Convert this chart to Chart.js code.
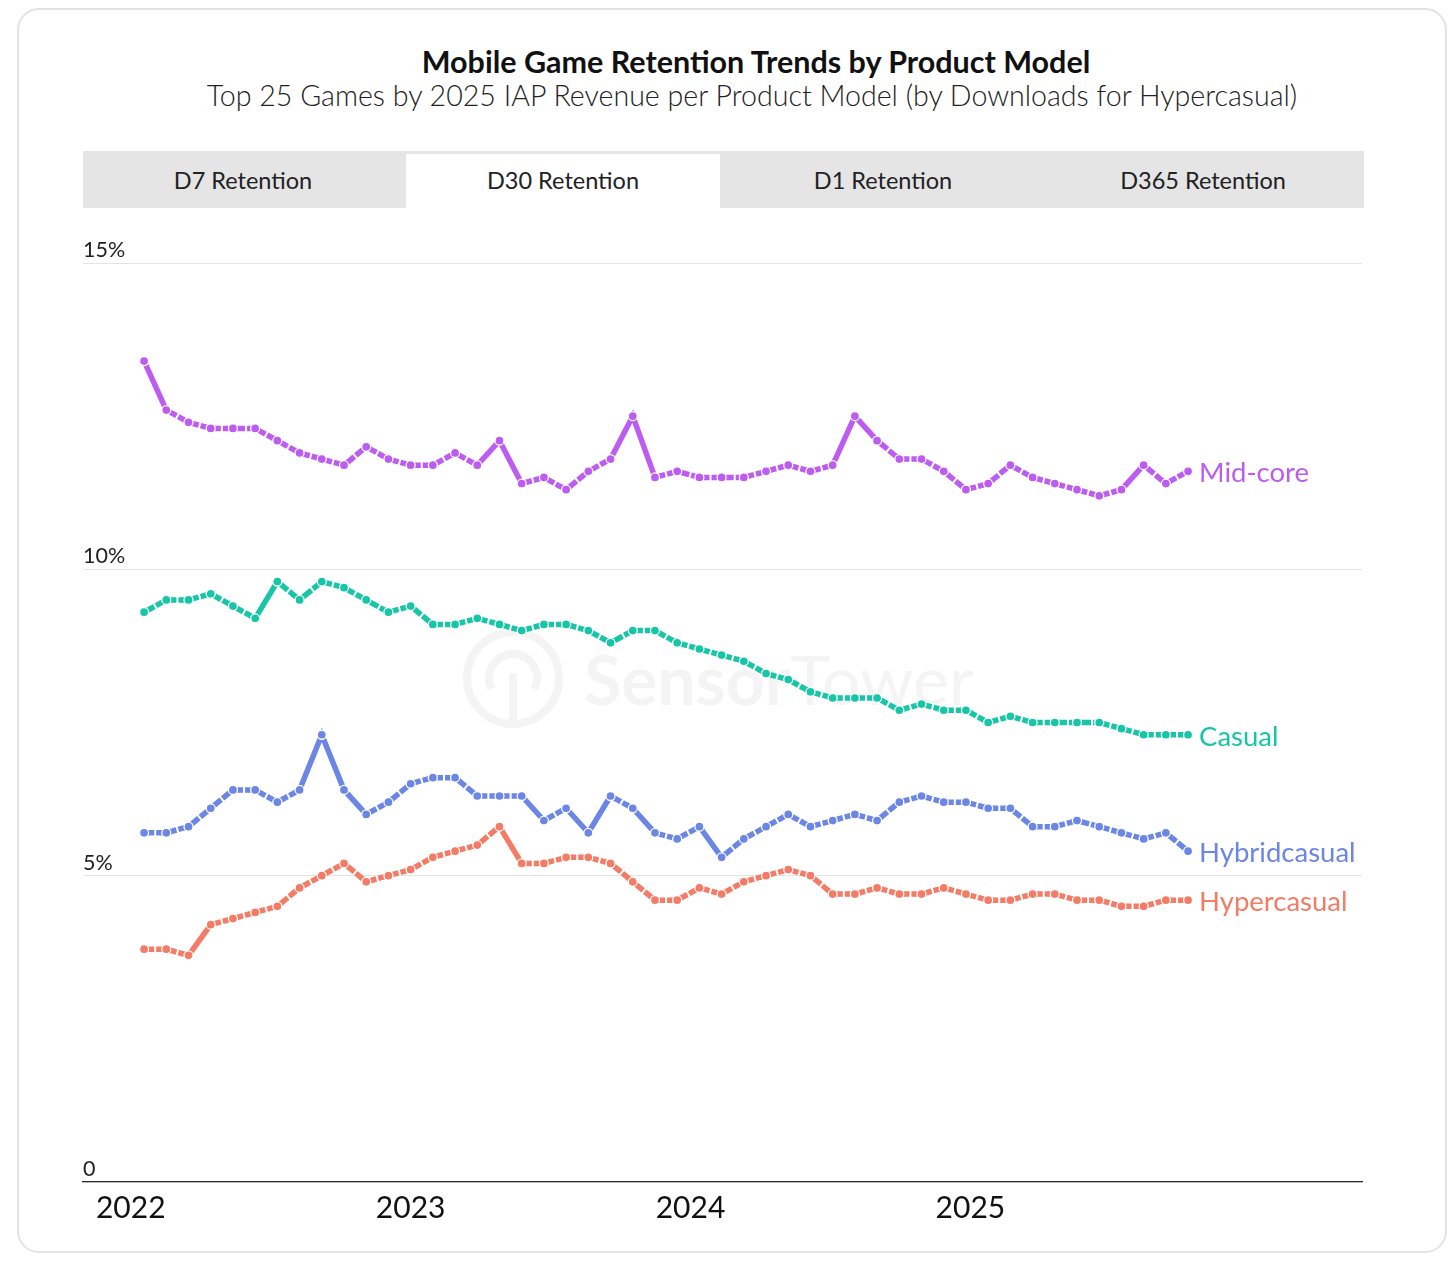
<!DOCTYPE html>
<html>
<head>
<meta charset="utf-8">
<script src="https://cdn.jsdelivr.net/npm/chart.js@4/dist/chart.umd.min.js"></script>
<style>
  body { margin: 0; width: 1456px; height: 1270px; background: #fff; font-family: Lato, "Noto Sans", sans-serif; position: relative; overflow: hidden; }
  .card { position: absolute; left: 17px; top: 8px; width: 1430px; height: 1245px; box-sizing: border-box; border: 2px solid #e3e3e3; border-radius: 22px; }
  .title { position: absolute; left: 28px; width: 1456px; top: 43px; line-height: 36px; text-align: center; font-size: 30.5px; font-weight: 700; color: #111; }
  .subtitle { position: absolute; left: 24px; width: 1456px; top: 77px; line-height: 36px; text-align: center; font-size: 28.6px; font-weight: 300; color: #222; }
  .tabs { position: absolute; left: 83px; top: 151px; width: 1281px; height: 57px; background: #e5e5e5; }
  .tab { position: absolute; top: 0; width: 320px; height: 57px; line-height: 58px; text-align: center; font-size: 23.5px; color: #222; }
  .tab.active { background: #fff; top: 3px; height: 54px; line-height: 52px; }
  #wrap { position: absolute; left: 0; top: 215px; width: 1456px; height: 1030px; }
</style>
</head>
<body>
<div class="card"></div>
<div class="title">Mobile Game Retention Trends by Product Model</div>
<div class="subtitle">Top 25 Games by 2025 IAP Revenue per Product Model (by Downloads for Hypercasual)</div>
<div class="tabs">
  <div class="tab" style="left:0">D7 Retention</div>
  <div class="tab active" style="left:323px;width:314px">D30 Retention</div>
  <div class="tab" style="left:640px">D1 Retention</div>
  <div class="tab" style="left:960px">D365 Retention</div>
</div>
<div id="wrap"><canvas id="id-canvas"></canvas></div>
<script>
// periods 0..47 (x axis), year labels sit at these period positions
var periods = [0,1,2,3,4,5,6,7,8,9,10,11,12,13,14,15,16,17,18,19,20,21,22,23,
               24,25,26,27,28,29,30,31,32,33,34,35,36,37,38,39,40,41,42,43,44,45,46,47];
var yearTicks = [-0.6, 12.0, 24.6, 37.2];
var yearLabels = ['2022', '2023', '2024', '2025'];

var midcore = [13.4,12.6,12.4,12.3,12.3,12.3,12.1,11.9,11.8,11.7,12.0,11.8,11.7,11.7,11.9,11.7,
               12.1,11.4,11.5,11.3,11.6,11.8,12.5,11.5,11.6,11.5,11.5,11.5,11.6,11.7,11.6,11.7,
               12.5,12.1,11.8,11.8,11.6,11.3,11.4,11.7,11.5,11.4,11.3,11.2,11.3,11.7,11.4,11.6];
var casual = [9.3,9.5,9.5,9.6,9.4,9.2,9.8,9.5,9.8,9.7,9.5,9.3,9.4,9.1,9.1,9.2,
              9.1,9.0,9.1,9.1,9.0,8.8,9.0,9.0,8.8,8.7,8.6,8.5,8.3,8.2,8.0,7.9,
              7.9,7.9,7.7,7.8,7.7,7.7,7.5,7.6,7.5,7.5,7.5,7.5,7.4,7.3,7.3,7.3];
var hybridcasual = [5.7,5.7,5.8,6.1,6.4,6.4,6.2,6.4,7.3,6.4,6.0,6.2,6.5,6.6,6.6,6.3,
                    6.3,6.3,5.9,6.1,5.7,6.3,6.1,5.7,5.6,5.8,5.3,5.6,5.8,6.0,5.8,5.9,
                    6.0,5.9,6.2,6.3,6.2,6.2,6.1,6.1,5.8,5.8,5.9,5.8,5.7,5.6,5.7,5.4];
var hypercasual = [3.8,3.8,3.7,4.2,4.3,4.4,4.5,4.8,5.0,5.2,4.9,5.0,5.1,5.3,5.4,5.5,
                   5.8,5.2,5.2,5.3,5.3,5.2,4.9,4.6,4.6,4.8,4.7,4.9,5.0,5.1,5.0,4.7,
                   4.7,4.8,4.7,4.7,4.8,4.7,4.6,4.6,4.7,4.7,4.6,4.6,4.5,4.5,4.6,4.6];

var seriesNames = ['Mid-core', 'Casual', 'Hybridcasual', 'Hypercasual'];
var seriesColors = ['#bd5cf1', '#17c6a7', '#6c86e5', '#f47b65'];
var seriesValues = [midcore, casual, hybridcasual, hypercasual];

function toPoints(vals) {
  return vals.map(function(v, i) { return { x: periods[i], y: v }; });
}

// short segments get a small break in the middle, like the original
function segDash(c) {
  var L = Math.hypot(c.p1.x - c.p0.x, c.p1.y - c.p0.y);
  return L < 32 ? [L / 2 - 1, 2] : undefined;
}

var endLabels = {
  id: 'endLabels',
  afterDatasetsDraw: function(chart) {
    var ctx = chart.ctx;
    ctx.save();
    ctx.font = '27.5px Lato';
    ctx.textBaseline = 'middle';
    ctx.textAlign = 'left';
    chart.data.datasets.forEach(function(ds, i) {
      var meta = chart.getDatasetMeta(i);
      var last = meta.data[meta.data.length - 1];
      ctx.fillStyle = ds.borderColor;
      ctx.fillText(ds.label, last.x + 11, last.y + 2);
    });
    ctx.restore();
  }
};

var watermark = {
  id: 'watermark',
  beforeDatasetsDraw: function(chart) {
    var ctx = chart.ctx;
    ctx.save();
    ctx.strokeStyle = '#f4f4f4';
    ctx.fillStyle = '#f4f4f4';
    ctx.lineWidth = 8;
    ctx.beginPath();
    ctx.arc(513, 463, 46, 0, Math.PI * 2);
    ctx.stroke();
    ctx.beginPath();
    ctx.arc(513, 463, 24, Math.PI * 0.85, Math.PI * 2.15);
    ctx.stroke();
    ctx.fillRect(509, 458, 8, 50);
    ctx.font = 'bold 68px Lato';
    ctx.textBaseline = 'alphabetic';
    ctx.fillText('Sensor', 584, 490);
    var w = ctx.measureText('Sensor').width;
    ctx.font = '68px Lato';
    ctx.fillText('Tower', 584 + w, 490);
    ctx.restore();
  }
};

(function() {
  var datasets = seriesValues.map(function(vals, i) {
    return {
      label: seriesNames[i],
      data: toPoints(vals),
      borderColor: seriesColors[i],
      backgroundColor: seriesColors[i],
      pointBackgroundColor: seriesColors[i],
      pointBorderColor: '#fff',
      pointBorderWidth: 1.3,
      pointRadius: 4.5,
      borderWidth: 5.5,
      tension: 0,
      segment: { borderDash: segDash }
    };
  });

  var ctx = document.getElementById('id-canvas').getContext('2d');
  window.chart = new Chart(ctx, {
    type: 'line',
    data: { datasets: datasets },
    options: {
      responsive: true,
      maintainAspectRatio: false,
      animation: false,
      layout: { padding: { left: 83, right: 94, top: 48, bottom: 11 } },
      plugins: { legend: { display: false }, tooltip: { enabled: false } },
      scales: {
        x: {
          type: 'linear',
          min: -2.75,
          max: 54.83,
          grid: { display: false, drawTicks: false },
          border: { display: true, color: '#2a2a2a', width: 1.3 },
          afterBuildTicks: function(axis) {
            axis.ticks = yearTicks.map(function(v) { return { value: v }; });
          },
          ticks: {
            autoSkip: false,
            maxRotation: 0,
            padding: 8,
            color: '#111',
            font: { family: 'Lato', size: 30 },
            callback: function(v) {
              var k = yearTicks.indexOf(v);
              return k >= 0 ? yearLabels[k] : '';
            }
          }
        },
        y: {
          min: 0,
          max: 15,
          grid: { color: '#e4e4e4', drawTicks: false, lineWidth: 1 },
          border: { display: false },
          ticks: {
            stepSize: 5,
            mirror: true,
            padding: 0,
            labelOffset: -13,
            color: '#222',
            font: { family: 'Lato', size: 21.5 },
            callback: function(v) { return v === 0 ? '0' : v + '%'; }
          }
        }
      }
    },
    plugins: [watermark, endLabels]
  });
})();
</script>
</body>
</html>
